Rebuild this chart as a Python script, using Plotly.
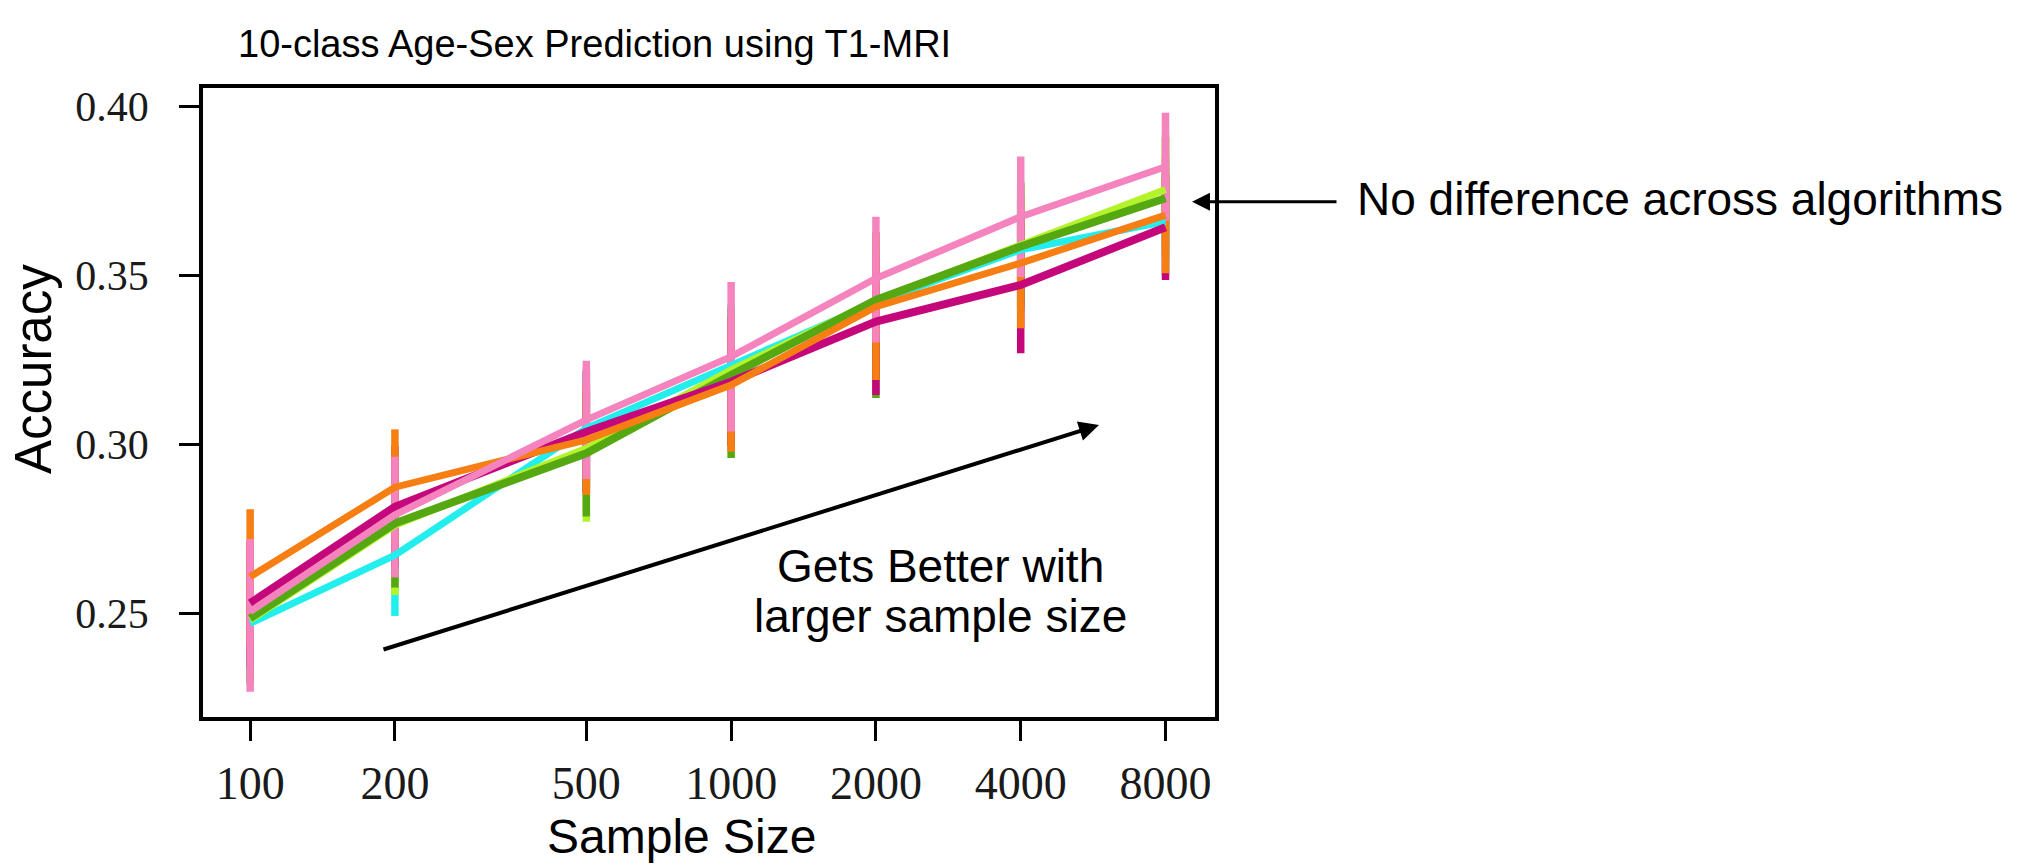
import plotly.graph_objects as go

# ---- data ----
sample_sizes = [100, 200, 500, 1000, 2000, 4000, 8000]
x_tick_labels = ["100", "200", "500", "1000", "2000", "4000", "8000"]
y_tick_values = [0.25, 0.30, 0.35, 0.40]
y_tick_labels = ["0.25", "0.30", "0.35", "0.40"]

acc_cyan = [0.2470, 0.2672, 0.3047, 0.3235, 0.3420, 0.3575, 0.3659]
err_cyan_up = [0.018, 0.018, 0.018, 0.018, 0.018, 0.017, 0.016]
err_cyan_dn = [0.018, 0.018, 0.018, 0.018, 0.018, 0.017, 0.016]

acc_lightgreen = [0.2480, 0.2760, 0.2988, 0.3220, 0.3425, 0.3590, 0.3754]
err_lightgreen_up = [0.019, 0.018, 0.018, 0.018, 0.018, 0.018, 0.017]
err_lightgreen_dn = [0.019, 0.0206, 0.0217, 0.018, 0.018, 0.018, 0.017]

acc_green = [0.2485, 0.2766, 0.2973, 0.3205, 0.3427, 0.3585, 0.3728]
err_green_up = [0.019, 0.018, 0.018, 0.020, 0.020, 0.019, 0.018]
err_green_dn = [0.019, 0.019, 0.0187, 0.0246, 0.029, 0.019, 0.018]

acc_magenta = [0.2530, 0.2815, 0.3037, 0.3185, 0.3363, 0.3471, 0.3642]
err_magenta_up = [0.018, 0.018, 0.018, 0.019, 0.020, 0.020, 0.0156]
err_magenta_dn = [0.019, 0.018, 0.018, 0.019, 0.0217, 0.0202, 0.0156]

acc_orange = [0.2608, 0.2873, 0.3013, 0.3175, 0.3407, 0.3536, 0.3678]
err_orange_up = [0.0200, 0.0171, 0.0163, 0.0197, 0.0217, 0.0193, 0.0172]
err_orange_dn = [0.0200, 0.0171, 0.0163, 0.0197, 0.0217, 0.0193, 0.0172]

acc_pink = [0.2505, 0.2791, 0.3072, 0.3259, 0.3491, 0.3673, 0.3821]
err_pink_up = [0.0215, 0.0172, 0.0175, 0.0221, 0.0182, 0.0178, 0.0160]
err_pink_dn = [0.0237, 0.0185, 0.0175, 0.0221, 0.0190, 0.0178, 0.0160]

series = [
    ("cyan", acc_cyan, err_cyan_up, err_cyan_dn, "#22EEEE", 7),
    ("lightgreen", acc_lightgreen, err_lightgreen_up, err_lightgreen_dn, "#B4F22A", 7),
    ("green", acc_green, err_green_up, err_green_dn, "#55A812", 8),
    ("magenta", acc_magenta, err_magenta_up, err_magenta_dn, "#C4087C", 8),
    ("orange", acc_orange, err_orange_up, err_orange_dn, "#F77E12", 7),
    ("pink", acc_pink, err_pink_up, err_pink_dn, "#F583BE", 7),
]

fig = go.Figure()
# error bars first (behind all lines)
for name, vals, eup, edn, col, w in series:
    fig.add_trace(go.Scatter(
        x=sample_sizes, y=vals, mode="markers", name=name + " sd",
        marker=dict(size=1, opacity=0, color=col),
        error_y=dict(type="data", symmetric=False, array=eup, arrayminus=edn,
                     visible=True, color=col, thickness=7.5, width=0),
        showlegend=False, hoverinfo="skip",
    ))
# lines on top
for name, vals, eup, edn, col, w in series:
    fig.add_trace(go.Scatter(
        x=sample_sizes, y=vals, mode="lines", name=name,
        line=dict(color=col, width=w),
        showlegend=False,
    ))

W, H = 2037, 867
L, R, T, B = 203, 1215, 88, 717
pw, ph = R - L, B - T


def px(x):
    return (x - L) / pw


def py(y):
    return (B - y) / ph


sans = "Liberation Sans, Arial, Helvetica, sans-serif"
serif = "Liberation Serif, Times New Roman, serif"

fig.update_layout(
    width=W, height=H,
    margin=dict(l=L, r=W - R, t=T, b=H - B, pad=0),
    paper_bgcolor="white", plot_bgcolor="white",
    xaxis=dict(
        type="log", range=[1.902, 4.006],
        tickvals=sample_sizes, ticktext=x_tick_labels,
        ticks="outside", ticklen=20, tickwidth=3, tickcolor="black",
        showline=True, linewidth=3.5, linecolor="black", mirror=True,
        showgrid=False, zeroline=False,
        tickfont=dict(family=serif, size=46, color="#1a1a1a"),
        ticklabelstandoff=3,
    ),
    yaxis=dict(
        range=[0.2193, 0.4054],
        tickvals=y_tick_values, ticktext=y_tick_labels,
        ticks="outside", ticklen=20, tickwidth=3, tickcolor="black",
        showline=True, linewidth=3.5, linecolor="black", mirror=True,
        showgrid=False, zeroline=False,
        tickfont=dict(family=serif, size=42, color="#1a1a1a"),
        ticklabelstandoff=22,
    ),
)

annotations = [
    dict(text="10-class Age-Sex Prediction using T1-MRI", x=px(594), y=py(44),
         xanchor="center", yanchor="middle", font=dict(family=sans, size=38, color="black")),
    dict(text="Accuracy", x=px(33), y=py(369), textangle=-90,
         xanchor="center", yanchor="middle", font=dict(family=sans, size=51, color="black")),
    dict(text="Sample Size", x=px(681), y=py(836),
         xanchor="center", yanchor="middle", font=dict(family=sans, size=48, color="black")),
    dict(text="No difference across algorithms", x=px(1355), y=py(199),
         xanchor="left", yanchor="middle", font=dict(family=sans, size=46, color="black")),
    dict(text="Gets Better with", x=px(940), y=py(566),
         xanchor="center", yanchor="middle", font=dict(family=sans, size=46, color="black")),
    dict(text="larger sample size", x=px(940), y=py(616),
         xanchor="center", yanchor="middle", font=dict(family=sans, size=46, color="black")),
    # arrows
    dict(text="", x=px(1192), y=py(201.7), ax=146, ay=0, showarrow=True,
         arrowhead=2, arrowsize=1.2, arrowwidth=3, arrowcolor="black", standoff=0),
    dict(text="", x=px(1099), y=py(425), ax=-717, ay=225, showarrow=True,
         arrowhead=2, arrowsize=1.0, arrowwidth=4, arrowcolor="black", standoff=0),
]
for a in annotations:
    a.setdefault("xref", "paper")
    a.setdefault("yref", "paper")
    a.setdefault("showarrow", False)
fig.update_layout(annotations=annotations)

fig.write_html("out.html", config={"displayModeBar": False},
               post_script="document.body.style.margin='0px';")
